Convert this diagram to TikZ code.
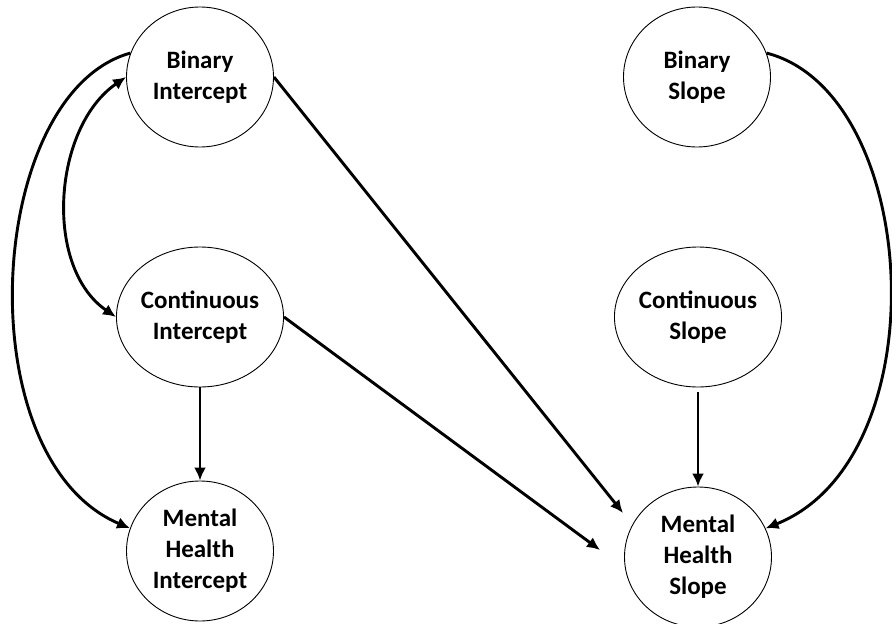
\documentclass[tikz,border=0pt]{standalone}
\usepackage{fontspec}
\setmainfont{Carlito}
\usetikzlibrary{shapes.geometric,arrows.meta}
\begin{document}
\begin{tikzpicture}[x=1pt,y=-1pt,
  latent/.style={ellipse,draw=black,line width=0.9pt,fill=white,minimum width=147pt,minimum height=140pt,inner sep=0pt,align=center,font=\bfseries\fontsize{25}{31}\selectfont},
  path/.style={line width=2.9pt,-{Latex[length=13pt,width=12pt]}},
  cov/.style={line width=2.9pt,{Latex[length=13pt,width=12pt]}-{Latex[length=13pt,width=12pt]}}]
\useasboundingbox (0,0) rectangle (892,624);
\node[latent] (bi) at (200,77) {Binary\\Intercept};
\node[latent] (ci) at (200,317) {Continuous\\Intercept};
\node[latent] (mhi) at (200,551) {Mental\\Health\\Intercept};
\node[latent] (bs) at (697,77) {Binary\\Slope};
\node[latent] (cs) at (698,317) {Continuous\\Slope};
\node[latent] (mhs) at (698,557) {Mental\\Health\\Slope};
\coordinate (e1) at (623,513);
\coordinate (e2) at (600,550);
\draw[path] (bi.161) .. controls +(-145,40) and +(-165,-70) .. (mhi.162);
\draw[cov] (bi.west) .. controls +(-73,50) and +(-73,-50) .. (ci.west);
\draw[path] (bi.east) -- (e1);
\draw[path] (ci.east) -- (e2);
\draw[path] (ci.south) -- (mhi.north);
\draw[path,shorten <=5pt] (cs.south) -- (mhs.north);
\draw[path] (bs.19) .. controls +(155,40) and +(175,-70) .. (mhs.23);
\end{tikzpicture}
\end{document}
